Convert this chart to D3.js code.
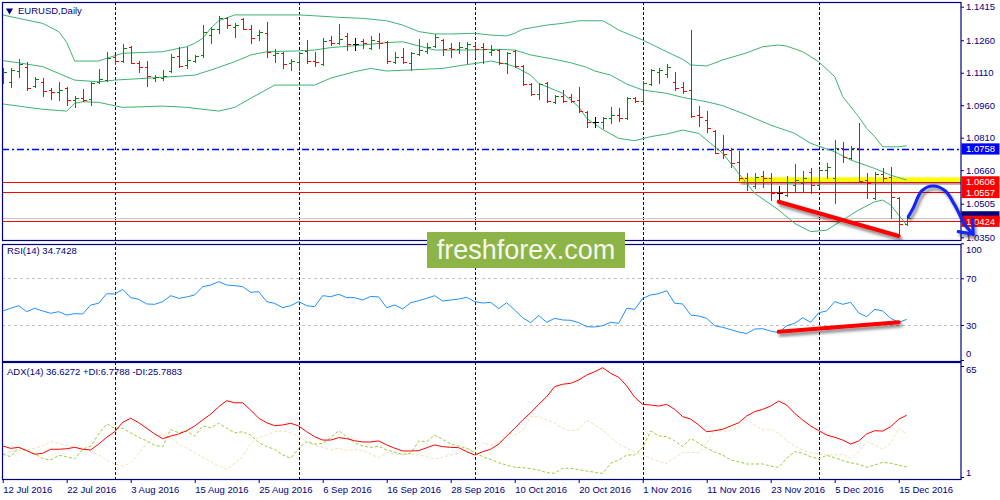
<!DOCTYPE html>
<html><head><meta charset="utf-8">
<script src="https://cdn.jsdelivr.net/npm/d3@7"></script>
<style>
html,body{margin:0;padding:0;background:#fff;}
svg{display:block;}
text{font-family:"Liberation Sans",Arial,sans-serif;}
</style></head><body>
<svg id="c" width="1000" height="500"></svg>
<script>
// ---------- DATA ----------
const symbolTitle = "EURUSD,Daily";
const rsiTitle = "RSI(14) 34.7428";
const adxTitle = "ADX(14) 36.6272 +DI:6.7788 -DI:25.7883";
const watermark = "freshforex.com";
const firstDay = "2016-07-12", lastDay = "2016-12-16";
const tickLabels = ["12 Jul 2016","22 Jul 2016","3 Aug 2016","15 Aug 2016","25 Aug 2016","6 Sep 2016","16 Sep 2016","28 Sep 2016","10 Oct 2016","20 Oct 2016","1 Nov 2016","11 Nov 2016","23 Nov 2016","5 Dec 2016","15 Dec 2016"];
const priceTicks = [1.1415,1.1260,1.1110,1.0960,1.0810,1.0660,1.0505,1.0350];
const rsiTicks = [100,70,30,0];
const rsiLevels = [70,30];
const adxTicks = [65,1];

const open = [1.1077,1.1067,1.1118,1.1137,1.1049,1.1067,1.1030,1.1021,1.1040,1.0984,1.0994,1.0989,1.1067,1.1077,1.1183,1.1164,1.1229,1.1155,1.1137,1.1086,1.1086,1.1118,1.1187,1.1146,1.1164,1.1192,1.1284,1.1312,1.1363,1.1321,1.1358,1.1312,1.1284,1.1294,1.1192,1.1201,1.1155,1.1160,1.1210,1.1164,1.1150,1.1261,1.1247,1.1280,1.1243,1.1256,1.1224,1.1256,1.1252,1.1160,1.1183,1.1155,1.1196,1.1210,1.1233,1.1261,1.1224,1.1219,1.1224,1.1233,1.1229,1.1206,1.1215,1.1155,1.1210,1.1141,1.1058,1.1012,1.1063,1.0975,1.1003,1.0998,1.0984,1.0929,1.0882,1.0882,1.0901,1.0915,1.0901,1.0994,1.0980,1.1058,1.1113,1.1104,1.1067,1.1044,1.1030,1.0915,1.0892,1.0841,1.0753,1.0753,1.0698,1.0624,1.0587,1.0633,1.0624,1.0555,1.0545,1.0591,1.0601,1.0651,1.0591,1.0660,1.0624,1.0762,1.0716,1.0762,1.0614,1.0531,1.0642,1.0628,1.0531,1.0411];
const high = [1.1132,1.1132,1.1173,1.1160,1.1090,1.1086,1.1040,1.1067,1.1044,1.1003,1.1035,1.1067,1.1127,1.1206,1.1192,1.1243,1.1233,1.1164,1.1164,1.1100,1.1123,1.1196,1.1229,1.1229,1.1192,1.1330,1.1321,1.1372,1.1367,1.1340,1.1363,1.1330,1.1307,1.1344,1.1219,1.1206,1.1173,1.1206,1.1261,1.1206,1.1270,1.1280,1.1335,1.1294,1.1270,1.1266,1.1280,1.1294,1.1256,1.1206,1.1224,1.1206,1.1266,1.1247,1.1289,1.1266,1.1247,1.1252,1.1252,1.1247,1.1247,1.1238,1.1219,1.1206,1.1215,1.1146,1.1063,1.1063,1.1065,1.1007,1.1030,1.1012,1.1044,1.0933,1.0906,1.0906,1.0952,1.0947,1.0998,1.0998,1.1072,1.1127,1.1132,1.1150,1.1113,1.1067,1.1307,1.0957,1.0933,1.0845,1.0822,1.0762,1.0748,1.0647,1.0647,1.0656,1.0647,1.0587,1.0633,1.0688,1.0656,1.0670,1.0665,1.0693,1.0799,1.0790,1.0771,1.0878,1.0647,1.0651,1.0670,1.0675,1.0536,1.0444];
const low = [1.1063,1.1044,1.1090,1.1030,1.1044,1.1003,1.0989,1.0984,1.0961,1.0952,1.0980,1.0961,1.1063,1.1072,1.1150,1.1160,1.1155,1.1113,1.1049,1.1072,1.1077,1.1113,1.1137,1.1132,1.1160,1.1183,1.1247,1.1294,1.1317,1.1275,1.1312,1.1247,1.1261,1.1183,1.1160,1.1132,1.1123,1.1123,1.1155,1.1141,1.1146,1.1238,1.1243,1.1215,1.1215,1.1224,1.1219,1.1224,1.1155,1.1155,1.1155,1.1123,1.1192,1.1201,1.1229,1.1192,1.1183,1.1201,1.1155,1.1183,1.1155,1.1192,1.1150,1.1109,1.1137,1.1054,1.1007,1.0989,1.0975,1.0970,1.0975,1.0975,1.0929,1.0859,1.0859,1.0855,1.0878,1.0887,1.0896,1.0975,1.0975,1.1054,1.1063,1.1090,1.1030,1.1017,1.0906,1.0864,1.0836,1.0739,1.0716,1.0675,1.0614,1.0568,1.0578,1.0582,1.0522,1.0513,1.0541,1.0559,1.0559,1.0555,1.0582,1.0624,1.0508,1.0698,1.0712,1.0605,1.0531,1.0527,1.0605,1.0439,1.0361,1.0407];
const close = [1.1113,1.1123,1.1150,1.1040,1.1081,1.1026,1.1021,1.1030,1.0984,1.0994,1.0984,1.1063,1.1081,1.1178,1.1164,1.1224,1.1155,1.1137,1.1095,1.1090,1.1095,1.1183,1.1141,1.1169,1.1187,1.1298,1.1312,1.1363,1.1330,1.1330,1.1312,1.1270,1.1298,1.1206,1.1201,1.1150,1.1164,1.1201,1.1164,1.1160,1.1256,1.1247,1.1266,1.1243,1.1243,1.1247,1.1261,1.1247,1.1164,1.1183,1.1160,1.1201,1.1215,1.1229,1.1275,1.1219,1.1219,1.1229,1.1243,1.1219,1.1219,1.1215,1.1155,1.1201,1.1141,1.1058,1.1012,1.1058,1.0980,1.1003,1.0980,1.0980,1.0933,1.0882,1.0882,1.0901,1.0915,1.0901,1.0994,1.0980,1.1063,1.1123,1.1123,1.1137,1.1040,1.1026,1.0910,1.0906,1.0855,1.0739,1.0733,1.0693,1.0624,1.0605,1.0628,1.0624,1.0555,1.0555,1.0605,1.0614,1.0624,1.0591,1.0660,1.0675,1.0762,1.0721,1.0762,1.0610,1.0600,1.0642,1.0624,1.0536,1.0411,1.0439];

// Bollinger bands: [bar, value]
const bbUpper = [[0,1.1377],[2,1.1361],[5,1.1338],[7,1.1300],[8,1.1250],[9,1.1164],[12,1.1164],[13,1.1177],[15,1.1200],[20,1.1207],[23,1.1230],[24,1.1246],[25,1.1269],[26,1.1315],[27,1.1350],[29,1.1377],[37,1.1377],[39,1.1373],[42,1.1366],[45,1.1361],[48,1.1350],[50,1.1330],[52,1.1300],[54,1.1289],[56,1.1289],[59,1.1292],[61,1.1284],[63,1.1280],[64,1.1292],[65,1.1311],[68,1.1330],[70,1.1338],[72,1.1350],[75,1.1350],[76,1.1330],[77,1.1307],[80,1.1261],[83,1.1207],[85,1.1172],[86,1.1146],[88,1.1141],[90,1.1169],[93,1.1202],[95,1.1230],[97,1.1238],[98,1.1233],[100,1.1207],[101,1.1184],[102,1.1161],[104,1.1092],[105,1.1000],[107,1.0907],[108,1.0853],[109,1.0815],[110,1.0768],[112,1.0768],[113,1.0773]];
const bbMiddle = [[0,1.1166],[2,1.1156],[5,1.1138],[7,1.1107],[9,1.1076],[12,1.1068],[14,1.1076],[20,1.1089],[24,1.1099],[26,1.1122],[29,1.1161],[31,1.1192],[33,1.1207],[37,1.1211],[39,1.1215],[41,1.1226],[45,1.1238],[48,1.1249],[50,1.1253],[54,1.1215],[58,1.1215],[62,1.1218],[64,1.1215],[66,1.1192],[69,1.1172],[71,1.1156],[73,1.1135],[74,1.1118],[76,1.1099],[78,1.1058],[80,1.1030],[83,1.1015],[85,1.0996],[88,1.0976],[90,1.0958],[93,1.0915],[96,1.0868],[99,1.0830],[101,1.0784],[104,1.0745],[106,1.0707],[109,1.0668],[111,1.0637],[113,1.0614]];
const bbLower = [[0,1.0966],[2,1.0956],[5,1.0941],[8,1.0933],[9,1.0969],[10,1.0976],[12,1.0973],[15,1.0950],[20,1.0956],[23,1.0950],[27,1.0933],[29,1.0950],[31,1.0992],[34,1.1053],[37,1.1053],[39,1.1053],[41,1.1085],[44,1.1115],[46,1.1130],[48,1.1118],[51,1.1123],[55,1.1130],[57,1.1142],[60,1.1158],[61,1.1164],[63,1.1150],[64,1.1138],[66,1.1099],[67,1.1061],[70,1.1015],[72,1.0953],[73,1.0899],[75,1.0848],[77,1.0807],[79,1.0796],[81,1.0815],[83,1.0827],[85,1.0845],[87,1.0830],[88,1.0799],[90,1.0738],[92,1.0645],[94,1.0553],[97,1.0476],[99,1.0414],[101,1.0376],[103,1.0383],[105,1.0430],[107,1.0476],[109,1.0514],[110,1.0522],[111,1.0499],[113,1.0407]];

const rsi = [42,44.3,46.5,41.4,44.3,42,40,41.4,38.5,39.7,39.4,47.1,48.6,56.8,56.5,60.5,53.4,52,48,47.7,50,55.1,52.8,54,55.7,62.8,64.2,67.1,64.2,63.7,62.8,58,58.5,50,48.5,44.8,46.5,50,46.5,45.7,55.1,54.2,56.3,53.4,53.4,51.4,54.5,54,44.8,47.1,43.7,49.1,50.8,52.8,55.1,50.5,51.4,52.2,53.7,50,48.8,49.4,44,49.1,42.8,36.2,32,38,32.3,35.7,34.3,34,32,28.5,28.3,29.4,32.3,31.4,44.3,43.4,52.8,55.7,56.8,59.4,48.6,48,38.5,37.7,35.7,29.4,28,26,24,22.6,26.5,26.8,24.8,23.4,29.4,31.4,36.2,32.3,40.5,42,50,47.7,49.4,40.3,37.1,43.4,42,35.7,32.3,34.74];
const adx = [18.9,17.5,18.1,16.2,14.1,14.7,17,17,17.3,18.1,17,16.6,20,23.9,27.1,32.5,34.9,32.3,29.1,25.8,23.1,24.6,25.8,27.7,30.4,33.9,37.2,41.5,45,43.8,43.8,39.6,34.9,32.3,30.6,31,32,30.4,27.1,24.2,22.3,22.3,23.7,23.1,21.9,21.2,21.2,21.8,19.5,17.6,16,16,16.2,17.9,19.5,18.5,18.1,17.9,15.6,13.7,15.6,17,20,24.6,29.1,33.9,38.1,42.9,47.3,53.1,54.5,55,56.9,59.8,61.7,64,60.8,58.5,53.5,47,42.9,42.5,41.9,42.9,40,35.8,34.4,31,27.1,27.7,28.5,30.4,32.3,36.2,38.7,40,41.9,44.8,42.5,37.7,33.9,30.4,27.7,25.2,23.9,22.3,20,21.8,25.8,27.7,27.5,30,34.3,36.63];
const plusDI = [14.1,12.7,18.1,16.2,14.3,11.6,10.8,13.5,12.7,11.4,17,18.9,25.8,31.6,29.1,29.1,26.5,23.9,21.9,19.3,18.5,28.5,26.5,27.5,24.6,30.4,29.4,32,29.1,26.5,27.1,25.2,20.8,18.5,17,13.7,11.8,17.6,21.4,20,20.4,23.7,27.7,24.2,20.8,18.9,18.1,18.7,16.6,15.2,14.1,14.7,21.8,21.4,25.2,22.7,20,18.9,17.6,15,12.7,11.2,9.2,7.9,6.6,6.4,5.8,5,3.5,3.1,6,6,5.2,4.5,3.7,3.1,8.9,10.8,13.7,13.7,18.1,27.5,24.8,24.2,21.9,18.5,23.3,20.4,17.6,15.4,13.7,10.8,9.8,8.5,8.5,8.5,7.3,6.6,11.8,15.6,14.7,12.7,11.4,13.5,12.1,10.4,9.2,8.3,6.6,7.9,9.5,8.9,7.9,6.78];
const minusDI = [14.3,15.6,16.2,16.6,17.6,18.9,21.4,20.4,19.1,18.3,17.6,15.6,13.7,10.8,8.5,7.3,9.2,14.7,20.4,24.6,25.4,23.7,20,17.6,15,12.4,9.8,7.3,5.4,8.9,12.7,20.4,23.9,25.2,27.1,27.7,26.5,24.2,21.4,19.5,18.1,16.6,17.6,16.2,17,16.2,14.3,12.1,15,14.1,13.7,14.3,13.7,12.7,11.4,12.4,13.7,14.7,17,16.2,20.8,19.5,20.4,26.8,25.2,28.1,35.8,35.8,33.9,32,29.1,27.5,28.5,33.9,31,28.1,23.9,20,17.6,15.4,13.7,11.8,9.8,8.9,12.1,15.2,15.2,15,20.4,28.5,27.1,28.1,30,34.3,31,28.1,28.7,26.2,21.9,18.9,16.6,15,14.3,13.9,13.7,14.1,11.8,15.6,21.4,19.5,17,20.4,29.1,25.79];

// drawn objects
const levelLines = [
  {price:1.0758, color:"#0000ff", dash:"7,3,2,3"},
  {price:1.0606, color:"#ff0000", dash:null},
  {price:1.0557, color:"#ff0000", dash:null},
  {price:1.0424, color:"#ff0000", dash:null}
];
const bidPrice = 1.0438;
const zoneFromBar = 92, zoneTop = 1.0627, zoneBottom = 1.0606;
const trendMain = [[97,1.0514],[112,1.0356]];
const trendRsi = [[97,24.2],[112,32.3]];
const arrowPath = [[113.2,1.0445],[113.8,1.0484],[114.9,1.0565],[116.3,1.0587],[117.8,1.0565],[119,1.0499],[120.3,1.0407],[121.3,1.0365]];

// ---------- CHART ----------
const NAVY = "#000080";
const svg = d3.select("#c");
const defs = svg.append("defs");
const P = {left:2, right:961, main:[2,240], rsi:[243.5,360], adx:[362,479]};
function clip(id, y0, y1){
  defs.append("clipPath").attr("id",id).append("rect")
    .attr("x",P.left).attr("y",y0).attr("width",P.right-P.left).attr("height",y1-y0);
}
clip("cMain",P.main[0],P.main[1]); clip("cRsi",P.rsi[0],P.rsi[1]); clip("cAdx",P.adx[0],P.adx[1]);
const fl = defs.append("filter").attr("id","shadow").attr("x","-20%").attr("y","-60%").attr("width","140%").attr("height","220%");
fl.append("feDropShadow").attr("dx",2).attr("dy",3).attr("stdDeviation",1.6).attr("flood-color","#000").attr("flood-opacity",0.45);

const parse = d3.timeParse("%Y-%m-%d");
const dates = d3.timeDay.range(parse(firstDay), d3.timeDay.offset(parse(lastDay),1))
  .filter(d => d.getDay()!==0 && d.getDay()!==6);
const fmt = d3.timeFormat("%-d %b %Y");
const n = dates.length;

const x = d3.scaleLinear().domain([0, n-1]).range([2.7, 2.7 + 8*(n-1)]);
const yP = d3.scaleLinear().domain([1.0350, 1.1415]).range([237.3, 6.7]);
const yR = d3.scaleLinear().domain([0, 100]).range([360, 243.25]);
const yA = d3.scaleLinear().domain([1, 65]).range([477, 366]);
const px = i => Math.round(x(i)) + 0.5;
const py = (s,v) => Math.round(s(v)) + 0.5;

svg.append("rect").attr("width",1000).attr("height",500).attr("fill","#fff");

// month separators
const monthStarts = dates.map((d,i)=>i).filter(i => i>0 && dates[i].getMonth()!==dates[i-1].getMonth());
svg.append("g").selectAll("line").data(monthStarts).join("line")
  .attr("x1",i=>px(i)).attr("x2",i=>px(i)).attr("y1",P.main[0]).attr("y2",P.adx[1])
  .attr("stroke",NAVY).attr("stroke-width",1).attr("stroke-dasharray","3,2");

// ---- main panel ----
const gMain = svg.append("g").attr("clip-path","url(#cMain)");
gMain.append("line").attr("x1",P.left).attr("x2",P.right).attr("y1",py(yP,bidPrice)).attr("y2",py(yP,bidPrice))
  .attr("stroke","#c8c8c8").attr("stroke-width",1);
gMain.append("rect").attr("x",x(zoneFromBar)).attr("y",yP(zoneTop)).attr("width",P.right-x(zoneFromBar))
  .attr("height",yP(zoneBottom)-yP(zoneTop)).attr("fill","#ffff00").attr("filter","url(#shadow)");
gMain.selectAll("line.lvl").data(levelLines).join("line").attr("class","lvl")
  .attr("x1",P.left).attr("x2",P.right).attr("y1",d=>py(yP,d.price)).attr("y2",d=>py(yP,d.price))
  .attr("stroke",d=>d.color).attr("stroke-width",d=>d.dash?1.5:1).attr("stroke-dasharray",d=>d.dash);
const bandLine = d3.line().x(d=>x(d[0])).y(d=>yP(d[1]));
[bbUpper,bbMiddle,bbLower].forEach(b=>{
  gMain.append("path").attr("d",bandLine(b)).attr("fill","none").attr("stroke","#3cb371").attr("stroke-width",1);
});
const bars = dates.map((d,i)=>({i,o:open[i],h:high[i],l:low[i],c:close[i]}));
const barColor = b => b.c>b.o ? "#0a850a" : (b.c<b.o ? "#ff0000" : "#000000");
const gb = gMain.append("g").attr("shape-rendering","crispEdges");
const bg = gb.selectAll("g").data(bars).join("g").attr("stroke",barColor).attr("stroke-width",1);
bg.append("line").attr("x1",b=>px(b.i)).attr("x2",b=>px(b.i)).attr("y1",b=>Math.round(yP(b.h))).attr("y2",b=>Math.round(yP(b.l))+1);
bg.append("line").attr("x1",b=>px(b.i)-3).attr("x2",b=>px(b.i)).attr("y1",b=>py(yP,b.o)).attr("y2",b=>py(yP,b.o));
bg.append("line").attr("x1",b=>px(b.i)).attr("x2",b=>px(b.i)+3.5).attr("y1",b=>py(yP,b.c)).attr("y2",b=>py(yP,b.c));
gMain.append("line").attr("x1",x(trendMain[0][0])).attr("y1",yP(trendMain[0][1]))
  .attr("x2",x(trendMain[1][0])).attr("y2",yP(trendMain[1][1]))
  .attr("stroke","#ff0000").attr("stroke-width",4).attr("stroke-linecap","round").attr("filter","url(#shadow)");

// ---- RSI panel ----
const gR = svg.append("g").attr("clip-path","url(#cRsi)");
gR.selectAll("line.lv").data(rsiLevels).join("line").attr("class","lv")
  .attr("x1",P.left).attr("x2",P.right).attr("y1",d=>py(yR,d)).attr("y2",d=>py(yR,d))
  .attr("stroke","#c0c0c0").attr("stroke-dasharray","3,3");
gR.append("path").datum(rsi).attr("d",d3.line().x((d,i)=>x(i)).y(d=>yR(d)))
  .attr("fill","none").attr("stroke","#1e90ff").attr("stroke-width",1);
gR.append("line").attr("x1",x(trendRsi[0][0])).attr("y1",yR(trendRsi[0][1]))
  .attr("x2",x(trendRsi[1][0])).attr("y2",yR(trendRsi[1][1]))
  .attr("stroke","#ff0000").attr("stroke-width",4).attr("stroke-linecap","round").attr("filter","url(#shadow)");

// ---- ADX panel ----
const gA = svg.append("g").attr("clip-path","url(#cAdx)");
const aLine = d3.line().x((d,i)=>x(i)).y(d=>yA(d));
gA.append("path").datum(minusDI).attr("d",aLine).attr("fill","none").attr("stroke","#f5deb3").attr("stroke-width",1).attr("stroke-dasharray","3,2");
gA.append("path").datum(plusDI).attr("d",aLine).attr("fill","none").attr("stroke","#9acd32").attr("stroke-width",1).attr("stroke-dasharray","3,2");
gA.append("path").datum(adx).attr("d",aLine).attr("fill","none").attr("stroke","#ff0000").attr("stroke-width",1);

// ---- frames ----
[P.main,P.rsi,P.adx].forEach(p=>{
  svg.append("rect").attr("x",P.left+0.5).attr("y",Math.round(p[0])+0.5).attr("width",P.right-P.left-0.5).attr("height",Math.round(p[1]-p[0]))
    .attr("fill","none").attr("stroke",NAVY).attr("stroke-width",1.2);
});

// ---- axes ----
function styleAxis(g){
  g.select(".domain").remove();
  g.selectAll("line").attr("stroke",NAVY);
  g.selectAll("text").attr("fill",NAVY).attr("font-size","9.5px").attr("font-family","'Liberation Sans',Arial,sans-serif");
}
const axP = svg.append("g").attr("transform",`translate(${P.right},0)`)
  .call(d3.axisRight(yP).tickValues(priceTicks).tickFormat(d3.format(".4f")).tickSize(3).tickPadding(2));
styleAxis(axP);
const axR = svg.append("g").attr("transform",`translate(${P.right},0)`)
  .call(d3.axisRight(yR).tickValues(rsiTicks).tickFormat(d3.format("d")).tickSize(3).tickPadding(2));
styleAxis(axR);
axR.selectAll("text").attr("dy",d=> d===100 ? "0.95em" : (d===0 ? "-0.35em" : "0.32em"));
const axA = svg.append("g").attr("transform",`translate(${P.right},0)`)
  .call(d3.axisRight(yA).tickValues(adxTicks).tickFormat(d3.format("d")).tickSize(3).tickPadding(2));
styleAxis(axA);
axA.selectAll("text").attr("dy",d=> d===65 ? "0.65em" : "-0.2em");

const tickIdx = tickLabels.map(l => dates.findIndex(d => fmt(d)===l));
const axX = svg.append("g").attr("transform",`translate(0,${P.adx[1]})`)
  .call(d3.axisBottom(x).tickValues(tickIdx).tickFormat(i=>fmt(dates[i])).tickSize(4).tickPadding(3));
styleAxis(axX);
axX.selectAll("text").attr("text-anchor","start").attr("x",0);

// ---- price label boxes ----
const gBox = svg.append("g");
// bid box (mostly hidden under the 1.0424 label)
gBox.append("rect").attr("x",P.right+0.5).attr("y",yP(bidPrice)-7).attr("width",38).attr("height",11.2).attr("fill",NAVY);
levelLines.forEach(b=>{
  const yy = yP(b.price);
  gBox.append("rect").attr("x",P.right+0.5).attr("y",yy-5.6).attr("width",38).attr("height",11.2).attr("fill",b.color);
  gBox.append("text").attr("x",P.right+5).attr("y",yy).attr("dy","0.35em").attr("fill","#fff")
    .attr("font-size","9.5px").text(d3.format(".4f")(b.price));
});

// ---- blue forecast arrow ----
const arrowPx = arrowPath.map(d=>[x(d[0]),yP(d[1])]);
const gArr = svg.append("g").attr("filter","url(#shadow)");
gArr.append("path").attr("d",d3.line().curve(d3.curveCatmullRom)(arrowPx))
  .attr("fill","none").attr("stroke","#1428f0").attr("stroke-width",3.2).attr("stroke-linecap","round");
{
  const tip = arrowPx[arrowPx.length-1], prev = arrowPx[arrowPx.length-2];
  const ang = Math.atan2(tip[1]-prev[1], tip[0]-prev[0]);
  const len = 15;
  [Math.PI*0.78, -Math.PI*0.78].forEach(da=>{
    gArr.append("line").attr("x1",tip[0]).attr("y1",tip[1])
      .attr("x2",tip[0]+len*Math.cos(ang+da)).attr("y2",tip[1]+len*Math.sin(ang+da))
      .attr("stroke","#1428f0").attr("stroke-width",3.2).attr("stroke-linecap","round");
  });
}

// ---- titles ----
const tri = d3.symbol().type(d3.symbolTriangle).size(22);
svg.append("path").attr("d",tri).attr("transform","translate(9.5,10.5) rotate(180)").attr("fill",NAVY);
const title = (t,xx,yy)=>svg.append("text").attr("x",xx).attr("y",yy).attr("dy","0.35em").attr("fill",NAVY).attr("font-size","9.5px").text(t);
title(symbolTitle,18,11);
title(rsiTitle,7,251);
title(adxTitle,7,372);

// ---- watermark ----
svg.append("rect").attr("x",427).attr("y",232).attr("width",198).attr("height",36).attr("fill","#8db446");
svg.append("text").attr("x",526).attr("y",250).attr("dy","0.34em").attr("text-anchor","middle")
  .attr("fill","#f6f8ef").attr("font-family","'Open Sans',sans-serif").attr("font-size","27px").text(watermark);
</script>
</body></html>
